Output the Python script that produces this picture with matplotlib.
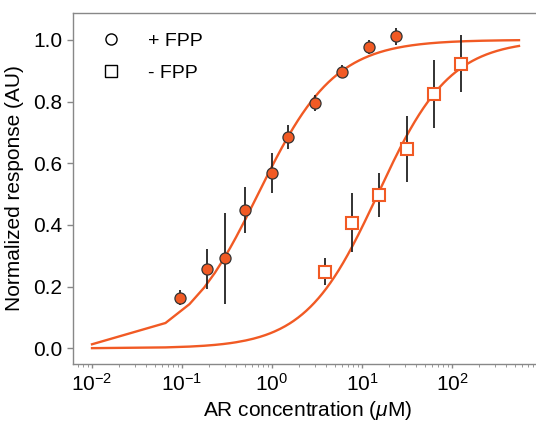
import numpy as np
import matplotlib
matplotlib.use("Agg")
import matplotlib.pyplot as plt
from matplotlib.lines import Line2D

plt.rcParams['font.family'] = ['Liberation Sans', 'DejaVu Sans']
plt.rcParams['mathtext.fontset'] = 'custom'
plt.rcParams['mathtext.rm'] = 'Liberation Sans'
plt.rcParams['mathtext.it'] = 'Liberation Sans:italic'

# + FPP data
conc_plus = [0.094, 0.19, 0.3, 0.5, 1.0, 1.5, 3.0, 6.0, 12.0, 24.0]
resp_plus = [0.164, 0.257, 0.292, 0.449, 0.568, 0.685, 0.795, 0.897, 0.978, 1.011]
err_plus = [0.025, 0.065, 0.148, 0.075, 0.065, 0.039, 0.025, 0.022, 0.023, 0.027]

# - FPP data
conc_minus = [3.9, 7.8, 15.6, 31.25, 62.5, 125.0]
resp_minus = [0.248, 0.407, 0.497, 0.645, 0.825, 0.923]
err_minus = [0.044, 0.095, 0.07, 0.107, 0.11, 0.092]

# Hill fit parameters (EC50, Hill coefficient)
ec50_plus, hill_plus = 0.70, 1.02
ec50_minus, hill_minus = 15.0, 1.08

xticks = [1e-2, 1e-1, 1e0, 1e1, 1e2]
yticks = [0.0, 0.2, 0.4, 0.6, 0.8, 1.0]

orange = '#f15a24'

def hill(x, k, n):
    return x**n / (k**n + x**n)

x_fit = np.linspace(0.01, 555, 10000)

fig = plt.figure(figsize=(5.36, 4.21), dpi=100)
ax = fig.add_axes([72.5/536, (421-364)/421, (542-72.5)/536, (364-12.7)/421])

ax.plot(x_fit, hill(x_fit, ec50_plus, hill_plus), color=orange, lw=1.7, zorder=2)
ax.plot(x_fit, hill(x_fit, ec50_minus, hill_minus), color=orange, lw=1.7, zorder=2)

ax.errorbar(conc_plus, resp_plus, yerr=err_plus, fmt='none', ecolor='#222222',
            elinewidth=1.3, capsize=0, zorder=3)
ax.errorbar(conc_minus, resp_minus, yerr=err_minus, fmt='none', ecolor='#222222',
            elinewidth=1.3, capsize=0, zorder=3)
ax.plot(conc_plus, resp_plus, 'o', ms=8, mfc=orange, mec='#333333', mew=0.9, zorder=4)
ax.plot(conc_minus, resp_minus, 's', ms=8, mfc='white', mec=orange, mew=1.5, zorder=4)

ax.set_xscale('log')
ax.set_xlim(10**-2.217, 10**3.0)
ax.set_ylim(-0.051, 1.088)
ax.set_xticks(xticks)
ax.set_yticks(yticks)

for s in ['left', 'bottom', 'top']:
    ax.spines[s].set_color('#888888')
    ax.spines[s].set_linewidth(1.0)
ax.spines['right'].set_visible(False)

ax.tick_params(axis='both', which='major', labelsize=15, color='#888888', width=1.0)
ax.tick_params(axis='y', which='major', length=4)
ax.tick_params(axis='x', which='major', length=3)
ax.tick_params(axis='x', which='minor', length=2, color='#888888')

ax.set_xlabel(r'AR concentration ($\mu$M)', fontsize=15, labelpad=3)
ax.set_ylabel('Normalized response (AU)', fontsize=15, labelpad=6)

handles = [
    Line2D([], [], marker='o', ls='none', ms=8, mfc='white', mec='black', mew=1.0),
    Line2D([], [], marker='s', ls='none', ms=8, mfc='white', mec='black', mew=1.0),
]
ax.legend(handles, ['+ FPP', '- FPP'], loc='upper left', frameon=False,
          fontsize=14, handletextpad=0.9, borderaxespad=0.6, labelspacing=0.75)

fig.savefig('out.png', dpi=100)
